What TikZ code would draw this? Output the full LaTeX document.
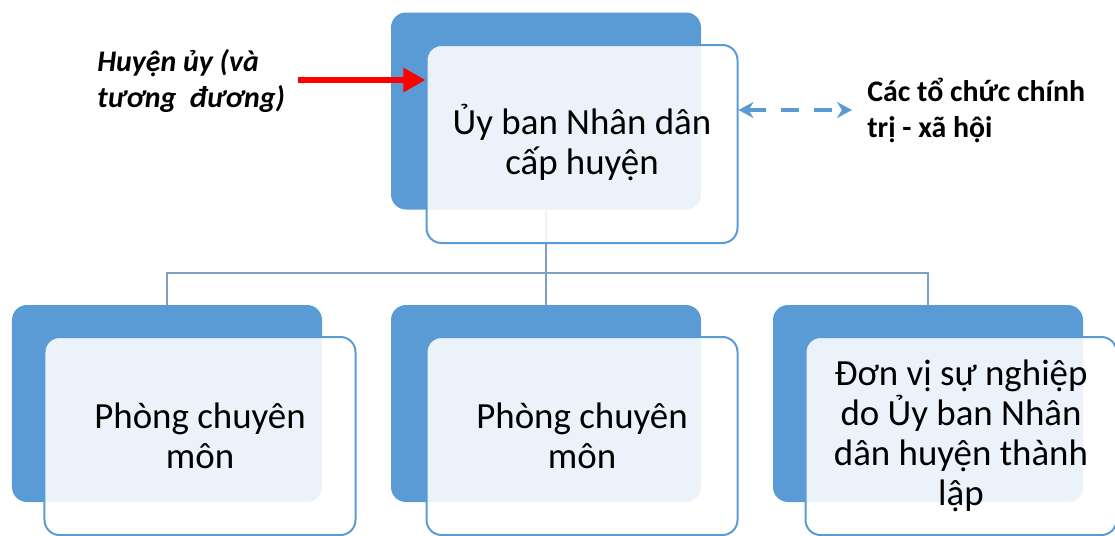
\documentclass[tikz,border=0pt]{standalone}
\usepackage{fontspec}
\setmainfont{Carlito}
\usetikzlibrary{positioning, arrows.meta, backgrounds}
\definecolor{boxblue} {RGB}{91,  155, 213}
\definecolor{linkgray}{RGB}{128, 160, 195}
\definecolor{hardred} {RGB}{255, 0,   0}
\tikzset{
  backbox/.style={
    rectangle, rounded corners=3mm, fill=boxblue,
    minimum width=62mm, minimum height=39.4mm
  },
  frontbox/.style={
    rectangle, rounded corners=3mm, draw=boxblue, line width=0.4mm,
    fill=white, fill opacity=0.88, text opacity=1,
    minimum width=62.2mm, minimum height=39.6mm, align=center,
    font=\fontsize{21}{22.8}\selectfont
  },
  sidelabel/.style={
    align=left, inner sep=0pt, font=\fontsize{17}{20}\selectfont\bfseries
  },
  linkline/.style={
    draw=linkgray, line width=0.5mm
  },
  redarrow/.style={
    -{Triangle[length=4.4mm, width=4.6mm]}, line width=1.2mm, color=hardred
  },
  dasharrow/.style={
    {Stealth[length=3mm, width=3.2mm]}-{Stealth[length=3mm, width=3.2mm]},
    line width=0.8mm, color=boxblue, dash pattern=on 3.6mm off 3mm
  },
}
\begin{document}
\begin{tikzpicture}[x=0.2mm, y=-0.2mm]
  \useasboundingbox (0,0) rectangle (1115,536);
  % top level
  \node[backbox] (ubndback) at (546,111) {};
  \node[frontbox, text depth=2mm] (ubnd) at (582,144) {Ủy ban Nhân dân\\cấp huyện};
  % second level
  \node[backbox] (pcm1back) at (167,403.5) {};
  \node[backbox] (pcm2back) at (546,403.5) {};
  \node[backbox] (dvback)   at (928,403.5) {};
  \node[frontbox] (pcm1) at (200,436) {Phòng chuyên\\môn};
  \node[frontbox] (pcm2) at (582,436) {Phòng chuyên\\môn};
  \node[frontbox] (dv)   at (961,436)
       {Đơn vị sự nghiệp\\do Ủy ban Nhân\\dân huyện thành\\lập};
  % side labels (base = last line)
  \node[sidelabel, anchor=base west,
        font=\fontsize{17}{20}\selectfont\bfseries\itshape]
       (huyenuy) at (97,107) {Huyện ủy (và\\tương~ đương)};
  \node[sidelabel, anchor=base west] (chinhtri) at (867,137)
       {Các tổ chức chính\\trị - xã hội};
  \coordinate (redtail) at (298,80);
  \coordinate (dashtip) at (852,110);
  \coordinate (bus) at (546,273);
  \draw[redarrow] (redtail) -- (redtail -| ubnd.west);
  \draw[dasharrow] (dashtip -| ubnd.east) -- (dashtip);
  % tree lines
  \begin{scope}[on background layer]
    \draw[linkline] (ubndback.south) -- (pcm2back.north);
    \draw[linkline] (pcm1back.north) |- (bus) -| (dvback.north);
  \end{scope}
\end{tikzpicture}
\end{document}
